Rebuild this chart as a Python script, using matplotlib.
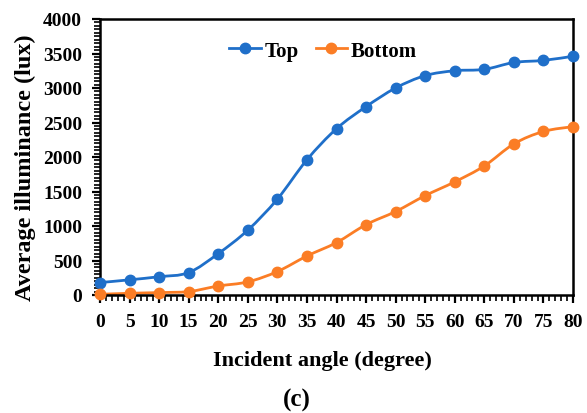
import numpy as np
import matplotlib.pyplot as plt
from matplotlib.path import Path
from matplotlib.patches import PathPatch
from matplotlib.lines import Line2D
from matplotlib.ticker import MultipleLocator

angles = [0, 5, 10, 15, 20, 25, 30, 35, 40, 45, 50, 55, 60, 65, 70, 75, 80]
top = [180, 220, 265, 325, 600, 940, 1390, 1960, 2410, 2730, 3000, 3180, 3250, 3270, 3370, 3400, 3460]
bottom = [10, 25, 35, 50, 130, 190, 340, 565, 760, 1020, 1210, 1440, 1640, 1870, 2190, 2370, 2440]

blue = '#1f6fc9'
orange = '#fb7d25'
font = 'Liberation Serif'


def smooth_path(x, y):
    # Catmull-Rom style bezier, like Excel's smoothed line
    x = np.asarray(x, float)
    y = np.asarray(y, float)
    verts = [(x[0], y[0])]
    codes = [Path.MOVETO]
    n = len(x)
    for i in range(n - 1):
        p0 = (x[max(i - 1, 0)], y[max(i - 1, 0)])
        p1 = (x[i], y[i])
        p2 = (x[i + 1], y[i + 1])
        p3 = (x[min(i + 2, n - 1)], y[min(i + 2, n - 1)])
        c1 = (p1[0] + (p2[0] - p0[0]) / 6, p1[1] + (p2[1] - p0[1]) / 6)
        c2 = (p2[0] - (p3[0] - p1[0]) / 6, p2[1] - (p3[1] - p1[1]) / 6)
        verts += [c1, c2, p2]
        codes += [Path.CURVE4] * 3
    return Path(verts, codes)


fig = plt.figure(figsize=(5.87, 4.14), dpi=100)
ax = fig.add_axes([100 / 587, 1 - 296 / 414, 473 / 587, 276 / 414])

for vals, col in [(top, blue), (bottom, orange)]:
    ax.add_patch(PathPatch(smooth_path(angles, vals), facecolor='none',
                           edgecolor=col, lw=2, zorder=2, clip_on=False))
    ax.plot(angles, vals, ls='none', marker='o', ms=7.5, color=col, zorder=3, clip_on=False)

ax.set_xlim(0, 80)
ax.set_ylim(0, 4000)
ax.xaxis.set_major_locator(MultipleLocator(5))
ax.xaxis.set_minor_locator(MultipleLocator(1))
ax.yaxis.set_major_locator(MultipleLocator(500))
ax.yaxis.set_minor_locator(MultipleLocator(50))
ax.tick_params(which='major', direction='out', length=6, width=1.6, pad=7)
ax.tick_params(which='minor', direction='out', length=4, width=1.2)
for s in ax.spines.values():
    s.set_linewidth(1.8)

for lab in ax.get_xticklabels() + ax.get_yticklabels():
    lab.set_fontfamily(font)
    lab.set_fontweight('bold')
    lab.set_fontsize(14)

fig.text(25 / 587, 1 - 168 / 414, 'Average illuminance (lux)', family=font, fontweight='bold',
         fontsize=17.5, rotation=90, ha='center', va='center')
fig.text(322 / 587, 1 - 361 / 414, 'Incident angle (degree)', family=font, fontweight='bold',
         fontsize=16, ha='center', va='center')
fig.text(297 / 587, 1 - 400 / 414, '(c)', family=font, fontweight='bold',
         fontsize=18, ha='center', va='center')

handles = [Line2D([], [], color=blue, lw=2, marker='o', ms=7.5),
           Line2D([], [], color=orange, lw=2, marker='o', ms=7.5)]
ax.legend(handles, ['Top', 'Bottom'], loc='upper center', bbox_to_anchor=(0.472, 0.99), ncol=2,
          frameon=False, prop={'family': font, 'weight': 'bold', 'size': 15},
          handlelength=1.5, handletextpad=0.2, columnspacing=0.8)

fig.savefig('out.png', dpi=100)
